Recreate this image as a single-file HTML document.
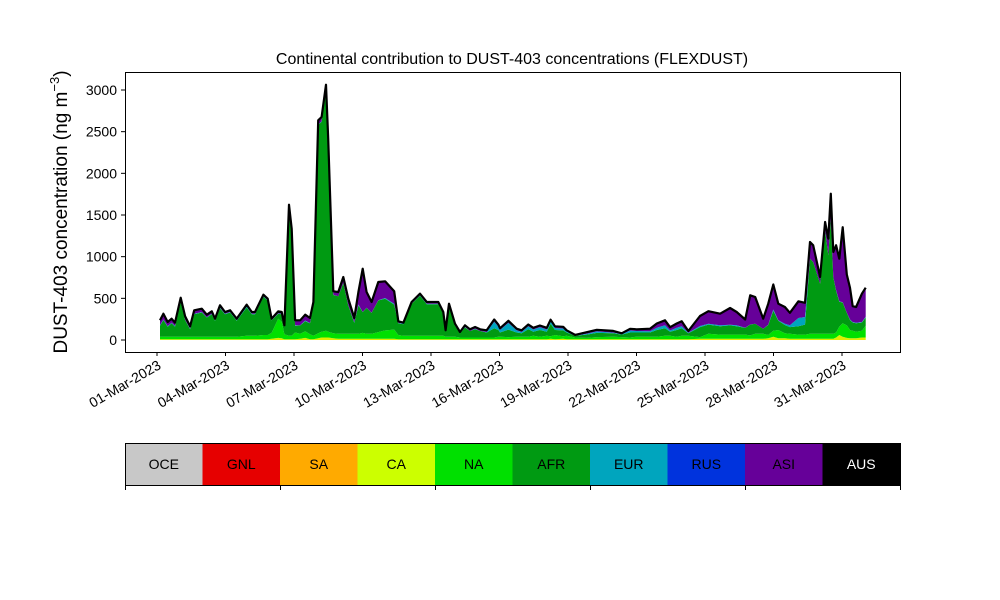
<!DOCTYPE html>
<html><head><meta charset="utf-8"><style>
body{margin:0;background:#fff;}
svg{display:block;font-family:"Liberation Sans","DejaVu Sans",sans-serif;}
</style></head><body>
<svg id="c" width="1000" height="600"></svg>
<script>
const days=[0.13,0.28,0.47,0.64,0.79,1.04,1.23,1.45,1.63,1.96,2.18,2.40,2.54,2.76,2.98,3.20,3.49,3.93,4.15,4.29,4.66,4.85,5.02,5.31,5.46,5.58,5.78,5.90,6.05,6.27,6.49,6.70,6.85,7.06,7.21,7.40,7.50,7.72,7.94,8.16,8.38,8.64,8.82,9.01,9.18,9.40,9.69,9.99,10.39,10.57,10.79,11.15,11.52,11.81,12.32,12.54,12.64,12.79,13.05,13.27,13.49,13.71,13.93,14.15,14.44,14.77,14.95,15.02,15.39,15.75,15.97,16.26,16.48,16.77,17.07,17.24,17.43,17.79,17.94,18.31,18.82,19.26,19.98,20.35,20.72,21.01,21.59,21.89,22.25,22.47,22.76,22.98,23.27,23.78,24.15,24.66,25.10,25.39,25.76,25.98,26.20,26.55,26.77,26.99,27.21,27.50,27.72,28.09,28.38,28.60,28.74,29.04,29.26,29.40,29.51,29.62,29.74,29.88,30.03,30.21,30.35,30.47,30.62,30.87,31.04];
const caVals=[10,10,10,10,10,10,10,10,10,10,10,10,10,10,10,10,10,10,10,10,10,10,15,25,20,10,10,10,10,15,25,10,10,20,30,30,30,20,15,15,15,15,15,15,15,15,15,15,15,10,10,10,10,10,10,10,10,10,10,10,10,10,10,10,10,10,10,10,10,10,10,10,10,10,10,15,10,15,10,10,10,10,10,10,10,10,10,10,10,10,10,10,10,15,15,15,15,15,15,15,15,15,20,40,20,20,15,15,15,15,15,15,15,15,15,15,30,60,40,25,20,20,20,30,30];
const naVals=[30,30,30,30,30,30,30,30,30,30,30,30,30,30,30,30,30,40,40,40,50,50,70,230,200,60,40,40,80,60,80,60,40,60,70,80,70,60,60,60,60,60,60,70,60,60,80,100,110,50,40,40,40,40,40,40,30,30,30,20,20,20,20,20,20,20,30,30,25,30,30,30,40,30,40,30,50,30,40,20,15,25,30,25,20,30,30,30,40,40,30,40,40,20,60,50,50,50,50,40,60,60,40,70,100,60,60,50,50,60,60,60,60,60,60,60,60,100,160,150,100,90,80,80,140,160];
const afrVals=[130,200,120,160,120,420,200,90,270,290,230,270,190,340,270,290,190,340,260,260,460,410,150,60,90,90,1540,1260,80,100,120,130,370,2500,2520,2900,2260,460,450,610,340,130,340,250,310,250,380,380,300,140,140,386,480,380,380,266,66,370,130,50,120,78,100,78,60,110,80,50,90,50,40,90,50,80,50,150,60,70,40,20,40,50,40,30,60,50,50,80,90,50,80,90,30,120,110,100,110,100,80,130,120,60,120,240,110,100,80,100,120,900,860,600,1240,940,1380,680,500,300,250,150,120,100,100,100,100];
const eurVals=[6,6,6,6,8,8,4,4,6,6,4,4,6,6,6,6,6,14,6,6,4,6,1,4,6,6,4,6,6,1,9,4,6,6,6,4,6,4,1,1,1,9,11,1,1,1,1,9,9,4,8,0,6,6,6,0,0,6,6,6,6,0,6,0,6,80,40,30,80,26,16,36,26,34,26,29,24,23,16,1,9,18,9,6,24,18,16,28,36,14,28,24,8,13,11,11,9,11,1,1,1,1,4,16,6,16,21,99,91,1,1,1,1,1,1,1,6,6,4,1,6,6,6,6,8];
const asiVals=[60,70,50,50,40,40,40,30,40,40,30,30,20,30,20,20,20,20,20,20,20,20,20,25,20,10,30,20,60,60,70,60,30,50,50,50,50,40,50,70,80,50,150,520,190,130,220,200,150,20,10,20,20,20,20,20,10,20,20,10,20,20,20,20,20,26,24,21,26,20,20,20,20,20,20,20,20,20,10,10,20,20,20,10,20,20,30,50,60,40,50,60,20,120,150,140,200,160,100,350,320,120,250,300,200,200,150,200,170,200,200,80,100,200,300,300,540,510,900,460,380,190,190,340,350];
const yTicks=[0,500,1000,1500,2000,2500,3000];
const xTickDays=[0,3,6,9,12,15,18,21,24,27,30];
const xTickLabels=["01-Mar-2023","04-Mar-2023","07-Mar-2023","10-Mar-2023","13-Mar-2023","16-Mar-2023","19-Mar-2023","22-Mar-2023","25-Mar-2023","28-Mar-2023","31-Mar-2023"];
const legendNames=["OCE","GNL","SA","CA","NA","AFR","EUR","RUS","ASI","AUS"];
const legendColors=["#c8c8c8","#e60000","#ffaa00","#ccff00","#00e000","#009a12","#00a5be","#0033dd","#660099","#000000"];

const NS="http://www.w3.org/2000/svg";
const svg=document.getElementById('c');
function el(t,a,p){const e=document.createElementNS(NS,t);for(const k in a)e.setAttribute(k,a[k]);(p||svg).appendChild(e);return e;}
const X=d=>157+d*22.833;
const Y=v=>340-v*250/3000;

const frame=el('rect',{x:125.5,y:72.5,width:775,height:280,fill:'none',stroke:'#000','stroke-width':1});



const series=[["ca",caVals,"#dfef00"],["na",naVals,"#00e000"],["afr",afrVals,"#009a12"],["eur",eurVals,"#00a5be"],["asi",asiVals,"#660099"]];
let base=days.map(()=>0);
const g=el('g',{});


series.forEach(([name,vals,col])=>{
  const top=base.map((b,i)=>b+vals[i]);
  let d='M'+days.map((t,i)=>X(t).toFixed(1)+','+Y(top[i]).toFixed(1)).join('L');
  for(let i=days.length-1;i>=0;i--)d+='L'+X(days[i]).toFixed(1)+','+Y(base[i]).toFixed(1);
  const p=el('path',{d:d+'Z',fill:col},g);
  
  
  base=top;
});
const tl=el('path',{d:'M'+days.map((t,i)=>X(t).toFixed(1)+','+Y(base[i]).toFixed(1)).join('L'),fill:'none',stroke:'#000','stroke-width':2.2,'stroke-linejoin':'round'});



yTicks.forEach(v=>{
  el('line',{x1:121,x2:125,y1:Y(v),y2:Y(v),stroke:'#000'});
  const t=el('text',{x:117,y:Y(v)+5,'text-anchor':'end','font-size':14});
  t.textContent=v;
  
  
});
xTickDays.forEach((d,i)=>{
  el('line',{x1:X(d),x2:X(d),y1:352,y2:356,stroke:'#000'});
  const bx=X(d)+5, by=368;
  const t=el('text',{x:bx,y:by,'text-anchor':'end','font-size':14,transform:`rotate(-30 ${bx} ${by})`});
  t.textContent=xTickLabels[i];
  
  
});
const title=el('text',{x:512,y:64,'text-anchor':'middle','font-size':16});
title.textContent='Continental contribution to DUST-403 concentrations (FLEXDUST)';


const yl=el('text',{x:0,y:0,'text-anchor':'middle','font-size':19,transform:'translate(67,212) rotate(-90)'});
yl.innerHTML='DUST-403 concentration (ng m<tspan dy="-8" font-size="13">−3</tspan><tspan dy="8">)</tspan>';



const lg=el('g',{});


const cw=77.5;
legendNames.forEach((n,i)=>{
  const r=el('rect',{x:125+i*cw,y:443,width:cw+0.5,height:42,fill:legendColors[i]},lg);
  
  
  const t=el('text',{x:125+i*cw+cw/2,y:469,'text-anchor':'middle','font-size':14,fill:n==='AUS'?'#fff':'#000'},lg);
  t.textContent=n;
  
  
});
el('rect',{x:125.5,y:443.5,width:775,height:42,fill:'none',stroke:'#000','stroke-width':1},lg);
[0,2,4,6,8,10].forEach(k=>el('line',{x1:125.5+k*cw,x2:125.5+k*cw,y1:485,y2:490,stroke:'#000'},lg));
</script>
</body></html>
